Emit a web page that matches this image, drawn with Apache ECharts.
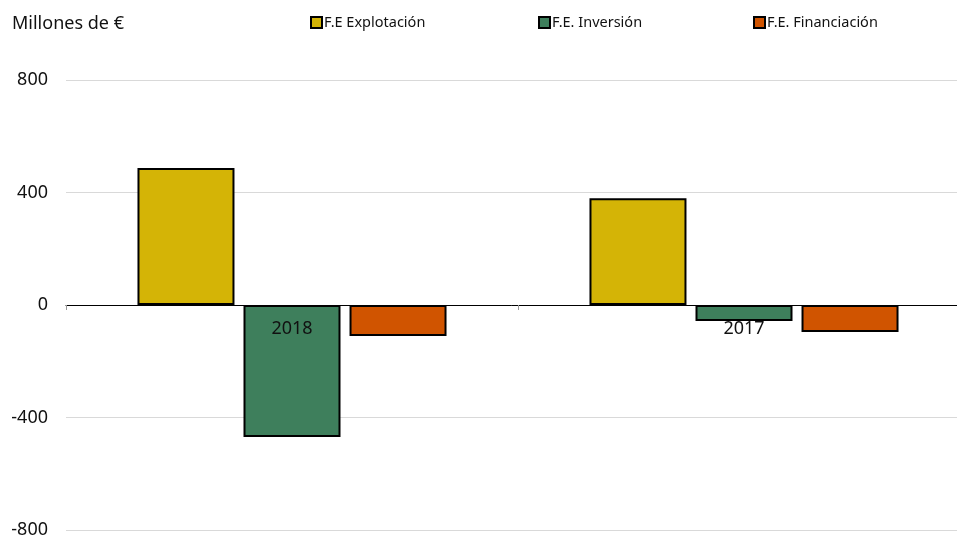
<!DOCTYPE html>
<html>
<head>
<meta charset="utf-8">
<script src="https://cdn.jsdelivr.net/npm/echarts@6/dist/echarts.min.js"></script>
<style>
  html, body { margin: 0; padding: 0; background: #fff; }
  #chart { width: 957px; height: 540px; }
</style>
</head>
<body>
<div id="chart"></div>
<script>
// datos
const years = ['2018', '2017'];
const explotacion = [487, 380];
const inversion = [-469, -57];
const financiacion = [-110, -96];
const seriesNames = ['F.E Explotación', 'F.E. Inversión', 'F.E. Financiación'];
const colors = ['#D4B406', '#3E7F5C', '#D05400'];

const chart = echarts.init(document.getElementById('chart'));
const font = '"Noto Sans", sans-serif';

const legendAt = (name, left) => ({
  data: [name],
  left: left,
  top: 10,
  icon: 'rect',
  itemWidth: 11,
  itemHeight: 11,
  itemGap: 0,
  textStyle: { fontFamily: font, fontSize: 14.5, color: '#111', padding: [0, 0, 0, -3] },
});

chart.setOption({
  color: colors,
  animation: false,
  textStyle: { fontFamily: font },
  title: {
    text: 'Millones de €',
    left: 7,
    top: 10,
    textStyle: { fontFamily: font, fontSize: 18, fontWeight: 'normal', color: '#111' },
  },
  legend: [
    legendAt(seriesNames[0], 305),
    legendAt(seriesNames[1], 533),
    legendAt(seriesNames[2], 748),
  ],
  grid: {
    left: 66,
    right: -13,
    top: 80,
    bottom: 10,
    containLabel: false,
    outerBoundsMode: 'none',
  },
  xAxis: {
    type: 'category',
    data: years,
    z: 10,
    offset: -225,
    axisLine: { onZero: false, lineStyle: { color: '#000', width: 1 } },
    axisTick: { show: true, length: 5, lineStyle: { color: '#999' } },
    axisLabel: { fontFamily: font, fontSize: 18, color: '#111', margin: 15 },
  },
  yAxis: {
    type: 'value',
    min: -800,
    max: 800,
    interval: 400,
    axisLine: { show: false },
    axisTick: { show: false },
    axisLabel: { fontFamily: font, fontSize: 18, color: '#111', margin: 18 },
    splitLine: { lineStyle: { color: '#d9d9d9' } },
  },
  series: [
    { name: seriesNames[0], data: explotacion },
    { name: seriesNames[1], data: inversion },
    { name: seriesNames[2], data: financiacion },
  ].map((s) => ({
    ...s,
    type: 'bar',
    barWidth: 97,
    barGap: '9.3%',
    itemStyle: { borderColor: '#000', borderWidth: 2 },
  })),
});
window.addEventListener('resize', () => {
  chart.resize();
});
</script>
</body>
</html>
